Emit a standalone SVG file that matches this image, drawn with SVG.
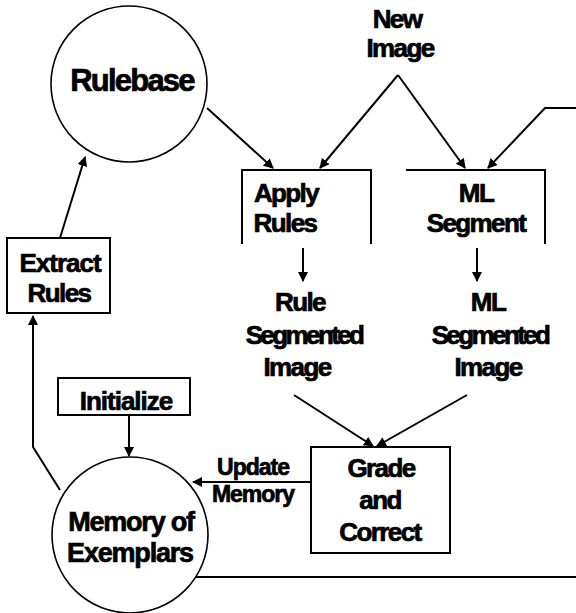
<svg xmlns="http://www.w3.org/2000/svg" width="576" height="613" viewBox="0 0 576 613">
  <defs>
    <marker id="arrow" viewBox="0 0 10 10" refX="9" refY="5" markerWidth="5" markerHeight="5" orient="auto" markerUnits="strokeWidth">
      <path d="M0,0 L10,5 L0,10 z" fill="#000"/>
    </marker>
    <style>
      .shape { fill: #fff; stroke: #000; stroke-width: 2; }
      .ring { fill: #fff; stroke: #000; stroke-width: 1.6; }
      .open { fill: none; stroke: #000; stroke-width: 2; }
      .edge { fill: none; stroke: #000; stroke-width: 2; }
      .arr { marker-end: url(#arrow); }
      text { font-family: "Liberation Sans", Arial, sans-serif; font-weight: bold; font-size: 26px; letter-spacing: -1.6px; text-anchor: middle; fill: #000; stroke: #000; stroke-width: 0.7px; }
      .big { font-size: 31px; letter-spacing: -1.8px; }
      .small { font-size: 23px; letter-spacing: -1px; }
      .tight { letter-spacing: -2.6px; }
      .loose { letter-spacing: -1px; }
      .mem { font-size: 27px; letter-spacing: -1.2px; }
    </style>
  </defs>

  <!-- connectors -->
  <g id="connectors">
    <path class="edge arr" d="M207,108 L273,168"/>
    <path class="edge arr" d="M398,75 L320,168"/>
    <path class="edge arr" d="M398,75 L465,168"/>
    <path class="edge arr" d="M576,108 L545,108 L488,168"/>
    <path class="edge arr" d="M303,248 L303,281"/>
    <path class="edge arr" d="M477,248 L477,281"/>
    <path class="edge arr" d="M294,395 L373,446"/>
    <path class="edge arr" d="M467,395 L377,446"/>
    <path class="edge arr" d="M310,482 L193,482"/>
    <path class="edge arr" d="M129,415 L129,456"/>
    <path class="edge arr" d="M60,490 L33,447 L33,316"/>
    <path class="edge arr" d="M60,238 L85,157"/>
    <path class="edge" d="M193,577 L576,577"/>
  </g>

  <g id="rulebase">
    <circle class="ring" cx="129" cy="84" r="78"/>
    <text class="big" x="132" y="91">Rulebase</text>
  </g>

  <g id="new-image">
    <text x="397" y="28">New</text>
    <text x="400" y="57">Image</text>
  </g>

  <g id="apply-rules">
    <path class="open" d="M242,244 V170 H371 V244"/>
    <text x="286" y="202">Apply</text>
    <text x="285" y="232">Rules</text>
  </g>

  <g id="ml-segment">
    <path class="open" d="M406,170 H545 V244"/>
    <text x="476" y="202">ML</text>
    <text x="476" y="232">Segment</text>
  </g>

  <g id="rule-segmented">
    <text x="300" y="311">Rule</text>
    <text class="tight" x="304" y="344">Segmented</text>
    <text x="297" y="376">Image</text>
  </g>

  <g id="ml-segmented">
    <text x="488" y="311">ML</text>
    <text class="tight" x="490" y="344">Segmented</text>
    <text x="488" y="376">Image</text>
  </g>

  <g id="extract-rules">
    <rect class="shape" x="7" y="238" width="103" height="75"/>
    <text class="loose" x="60" y="272">Extract</text>
    <text x="59" y="302">Rules</text>
  </g>

  <g id="initialize">
    <rect class="shape" x="58" y="378" width="132" height="37"/>
    <text class="loose" x="126" y="410">Initialize</text>
  </g>

  <g id="update-memory">
    <text class="small" x="253" y="475">Update</text>
    <text class="small" x="253" y="502">Memory</text>
  </g>

  <g id="grade-correct">
    <rect class="shape" x="311" y="447" width="139" height="106"/>
    <text x="381" y="477">Grade</text>
    <text x="380" y="509">and</text>
    <text x="380" y="541">Correct</text>
  </g>

  <g id="memory">
    <circle class="ring" cx="130" cy="535" r="78"/>
    <text class="mem" x="131" y="531">Memory of</text>
    <text class="mem" x="130" y="562">Exemplars</text>
  </g>
</svg>
